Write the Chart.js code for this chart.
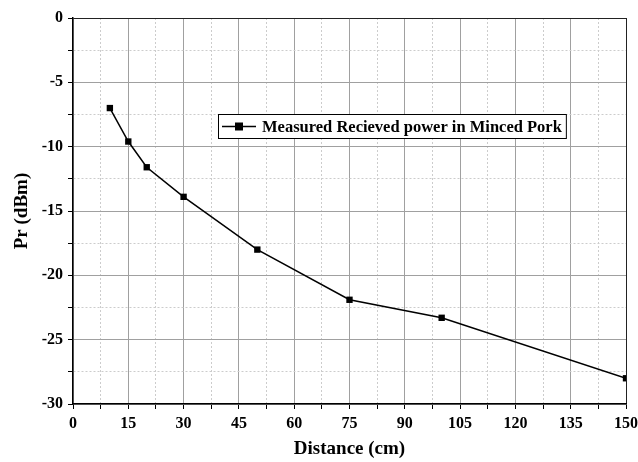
<!DOCTYPE html>
<html>
<head>
<meta charset="utf-8">
<script src="https://cdn.jsdelivr.net/npm/chart.js@4"></script>
<style>
  html, body { margin: 0; padding: 0; background: #fff; }
  #wrap { width: 638px; height: 462px; }
</style>
</head>
<body>
<div id="wrap"><canvas id="chart" width="638" height="462"></canvas></div>
<script>
// Data
const distanceCm = [10, 15, 20, 30, 50, 75, 100, 150];
const powerDbm = [-7.0, -9.6, -11.6, -13.9, -18.0, -21.9, -23.3, -28.0];
const seriesLabel = 'Measured Recieved power in Minced Pork';

const serif = '"Liberation Serif", "Times New Roman", serif';

// Legend box drawn inside the plot, like the original figure
const insideLegend = {
  id: 'insideLegend',
  afterDraw(chart) {
    const { ctx, chartArea } = chart;
    const w = chartArea.right - chartArea.left;
    const h = chartArea.bottom - chartArea.top;
    const x0 = Math.round(chartArea.left + w * 0.262);
    const y0 = Math.round(chartArea.top + h * 0.249);
    ctx.save();
    ctx.font = 'bold 16.5px ' + serif;
    const tw = ctx.measureText(seriesLabel).width;
    const bw = 44 + tw + 4;
    const bh = 24;
    ctx.fillStyle = '#fff';
    ctx.fillRect(x0, y0, bw, bh);
    ctx.strokeStyle = '#000';
    ctx.lineWidth = 1;
    ctx.strokeRect(x0 + 0.5, y0 + 0.5, bw, bh);
    const cy = y0 + bh / 2 + 0.5;
    ctx.lineWidth = 1.5;
    ctx.beginPath();
    ctx.moveTo(x0 + 4, cy);
    ctx.lineTo(x0 + 38, cy);
    ctx.stroke();
    ctx.fillStyle = '#000';
    ctx.fillRect(x0 + 21 - 4, cy - 4, 8, 8);
    ctx.textBaseline = 'middle';
    ctx.fillText(seriesLabel, x0 + 44, cy + 1);
    ctx.restore();
  }
};

const isMajorX = (v) => Math.abs(v % 15) < 1e-6;
const isMajorY = (v) => Math.abs(v % 5) < 1e-6;

const gridColorX = (c) => {
  const v = c.tick.value;
  if (v === 150) return '#222';
  return isMajorX(v) ? '#a0a0a0' : '#cccccc';
};
const gridColorY = (c) => {
  const v = c.tick.value;
  if (v === 0) return '#222';
  return isMajorY(v) ? '#a0a0a0' : '#cccccc';
};

new Chart(document.getElementById('chart'), {
  type: 'line',
  data: {
    datasets: [{
      label: seriesLabel,
      data: distanceCm.map((d, i) => ({ x: d, y: powerDbm[i] })),
      borderColor: '#000',
      backgroundColor: '#000',
      borderWidth: 1.5,
      pointStyle: 'rect',
      pointRadius: 4.5,
      pointBorderWidth: 0,
      tension: 0,
    }],
  },
  options: {
    responsive: false,
    animation: false,
    layout: { padding: { top: 18, right: 0, left: 0, bottom: 0 } },
    plugins: { legend: { display: false }, tooltip: { enabled: false } },
    scales: {
      x: {
        type: 'linear',
        min: 0,
        max: 150,
        afterFit: (scale) => {
          scale.height = 58;
          scale.paddingRight = 12; // let "150" run to the canvas edge
        },
        ticks: {
          stepSize: 7.5,
          autoSkip: false,
          maxRotation: 0,
          padding: 5,
          color: '#000',
          font: { family: serif, size: 16, weight: 'bold' },
          callback: (v) => (isMajorX(v) ? String(v) : ''),
        },
        grid: {
          color: gridColorX,
          lineWidth: 1,
          tickColor: '#000',
          tickLength: 5,
          tickWidth: 1,
        },
        border: {
          display: true,
          color: '#000',
          width: 1.5,
          dash: (c) => (c.tick && !isMajorX(c.tick.value) ? [2, 2] : []),
        },
        title: {
          display: true,
          text: 'Distance (cm)',
          color: '#000',
          font: { family: serif, size: 19, weight: 'bold' },
          padding: { top: 4, bottom: 2 },
        },
      },
      y: {
        type: 'linear',
        min: -30,
        max: 0,
        afterFit: (scale) => { scale.width = 73; },
        ticks: {
          stepSize: 2.5,
          autoSkip: false,
          padding: 5,
          color: '#000',
          font: { family: serif, size: 16, weight: 'bold' },
          callback: (v) => (isMajorY(v) ? String(v) : ''),
        },
        grid: {
          color: gridColorY,
          lineWidth: 1,
          tickColor: '#000',
          tickLength: 5,
          tickWidth: 1,
        },
        border: {
          display: true,
          color: '#000',
          width: 1.5,
          dash: (c) => (c.tick && !isMajorY(c.tick.value) ? [2, 2] : []),
        },
        title: {
          display: true,
          text: 'Pr (dBm)',
          color: '#000',
          font: { family: serif, size: 19, weight: 'bold' },
          padding: { top: 11, bottom: 4 },
        },
      },
    },
  },
  plugins: [insideLegend],
});
</script>
</body>
</html>
